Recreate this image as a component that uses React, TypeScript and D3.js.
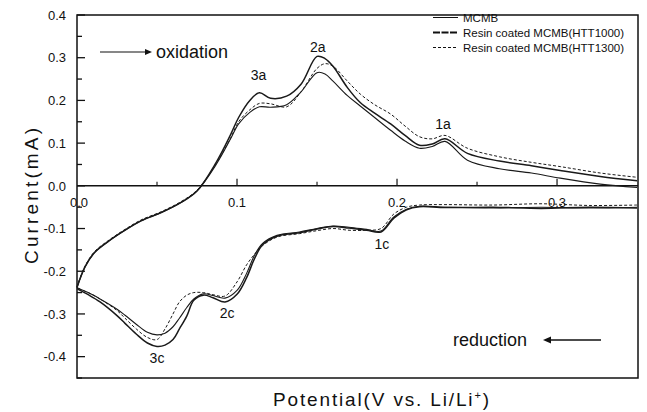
import React from "react";
import * as d3 from "d3";

// ---- Data ----
const seriesNames = ["MCMB", "Resin coated MCMB(HTT1000)", "Resin coated MCMB(HTT1300)"];

// anodic (oxidation) sweep, increasing potential
const anodicV = [0, 0.005, 0.011, 0.02, 0.03, 0.04, 0.053, 0.065, 0.075, 0.087, 0.096, 0.101, 0.108, 0.114, 0.121, 0.131, 0.14, 0.15, 0.155, 0.16, 0.169, 0.177, 0.186, 0.196, 0.205, 0.214, 0.222, 0.23, 0.244, 0.264, 0.284, 0.302, 0.327, 0.35];
const anodicMCMB = [-0.238, -0.19, -0.156, -0.129, -0.104, -0.082, -0.062, -0.039, -0.012, 0.05, 0.11, 0.145, 0.172, 0.185, 0.184, 0.19, 0.22, 0.265, 0.262, 0.245, 0.211, 0.187, 0.16, 0.13, 0.105, 0.088, 0.092, 0.104, 0.06, 0.04, 0.03, 0.018, 0.004, -0.004];
const anodicHTT1000 = [-0.238, -0.19, -0.156, -0.129, -0.104, -0.082, -0.062, -0.039, -0.012, 0.055, 0.12, 0.16, 0.2, 0.218, 0.205, 0.21, 0.238, 0.303, 0.298, 0.28, 0.23, 0.195, 0.17, 0.145, 0.118, 0.095, 0.098, 0.11, 0.076, 0.058, 0.047, 0.036, 0.022, 0.012];
const anodicHTT1300 = [-0.236, -0.188, -0.154, -0.127, -0.102, -0.08, -0.06, -0.037, -0.01, 0.052, 0.112, 0.15, 0.178, 0.193, 0.192, 0.185, 0.22, 0.275, 0.286, 0.28, 0.245, 0.215, 0.19, 0.168, 0.14, 0.115, 0.11, 0.118, 0.088, 0.068, 0.055, 0.045, 0.03, 0.02];

// cathodic (reduction) sweep, decreasing potential
const cathodicV = [0.35, 0.32, 0.29, 0.26, 0.23, 0.214, 0.206, 0.198, 0.19, 0.181, 0.17, 0.16, 0.15, 0.139, 0.125, 0.116, 0.111, 0.106, 0.1, 0.0925, 0.085, 0.079, 0.073, 0.0686, 0.064, 0.06, 0.055, 0.05, 0.044, 0.037, 0.03, 0.025, 0.0144, 0.007, 0.002, 0];
const cathodicMCMB = [-0.05, -0.052, -0.05, -0.052, -0.05, -0.048, -0.055, -0.073, -0.106, -0.102, -0.097, -0.094, -0.1, -0.108, -0.116, -0.135, -0.162, -0.205, -0.245, -0.263, -0.257, -0.253, -0.265, -0.285, -0.31, -0.33, -0.345, -0.349, -0.343, -0.324, -0.303, -0.289, -0.265, -0.25, -0.242, -0.238];
const cathodicHTT1000 = [-0.052, -0.05, -0.053, -0.05, -0.051, -0.049, -0.056, -0.076, -0.108, -0.104, -0.099, -0.095, -0.101, -0.11, -0.118, -0.138, -0.17, -0.215, -0.254, -0.272, -0.262, -0.256, -0.268, -0.305, -0.335, -0.36, -0.373, -0.376, -0.368, -0.347, -0.322, -0.304, -0.272, -0.255, -0.245, -0.24];
const cathodicHTT1300 = [-0.045, -0.046, -0.042, -0.045, -0.044, -0.045, -0.05, -0.066, -0.1, -0.104, -0.104, -0.1, -0.105, -0.112, -0.12, -0.14, -0.16, -0.185, -0.225, -0.258, -0.255, -0.25, -0.25, -0.256, -0.272, -0.3, -0.335, -0.36, -0.355, -0.335, -0.31, -0.292, -0.265, -0.25, -0.242, -0.236];

const xTickValues = [0, 0.1, 0.2, 0.3];
const xTickLabels = ["0.0", "0.1", "0.2", "0.3"];
const yTickValues = [0.4, 0.3, 0.2, 0.1, 0, -0.1, -0.2, -0.3, -0.4];
const yTickLabels = ["0.4", "0.3", "0.2", "0.1", "0.0", "-0.1", "-0.2", "-0.3", "-0.4"];

const peakLabels = [
  { text: "3a", v: 0.1135, i: 0.248 },
  { text: "2a", v: 0.1505, i: 0.314 },
  { text: "1a", v: 0.2288, i: 0.133 },
  { text: "1c", v: 0.1906, i: -0.147 },
  { text: "2c", v: 0.0938, i: -0.31 },
  { text: "3c", v: 0.05, i: -0.416 },
];

const W = 647;
const H = 412;
const M = { left: 77, right: 638, top: 15, bottom: 378 };
const FONT = "Liberation Sans, Arial, Helvetica, sans-serif";

export default function App() {
  const x = d3.scaleLinear().domain([0, 0.3506]).range([M.left, M.right]);
  const y = d3.scaleLinear().domain([-0.45, 0.4]).range([M.bottom, M.top]);

  const line = d3
    .line<[number, number]>()
    .x((d) => x(d[0]))
    .y((d) => y(d[1]))
    .curve(d3.curveCatmullRom.alpha(0.5));

  const zip = (xs: number[], ys: number[]) => xs.map((v, k) => [v, ys[k]] as [number, number]);

  const curves = [
    { a: anodicMCMB, c: cathodicMCMB, w: 1.1, dash: "" },
    { a: anodicHTT1000, c: cathodicHTT1000, w: 1.5, dash: "" },
    { a: anodicHTT1300, c: cathodicHTT1300, w: 1.0, dash: "3,2" },
  ];

  const legendStyles = [
    { w: 1.0, dash: "" },
    { w: 2.0, dash: "7,1.5" },
    { w: 1.0, dash: "3,2" },
  ];

  const yMinor = d3.range(-0.45, 0.4001, 0.05).map((v) => +v.toFixed(2));
  const xMinor = [0.05, 0.15, 0.25];

  return (
    <svg
      width={W}
      height={H}
      style={{ position: "absolute", left: 0, top: 0, background: "#fff" }}
      fontFamily={FONT}
    >
      <rect x={0} y={0} width={W} height={H} fill="#fff" />
      {/* frame */}
      <rect
        x={M.left}
        y={M.top}
        width={M.right - M.left}
        height={M.bottom - M.top}
        fill="none"
        stroke="#111"
        strokeWidth={1.5}
      />
      {/* zero line */}
      <line x1={M.left} x2={M.right} y1={y(0)} y2={y(0)} stroke="#111" strokeWidth={1.6} />

      {/* y ticks (inward) */}
      {yMinor.map((v) => {
        const major = Math.abs(Math.round(v * 10) - v * 10) < 1e-6;
        return (
          <line
            key={"ym" + v}
            x1={M.left}
            x2={M.left + (major ? 8 : 5)}
            y1={y(v)}
            y2={y(v)}
            stroke="#111"
            strokeWidth={1.3}
          />
        );
      })}
      {yTickValues.map((v, k) => (
        <text
          key={"yl" + v}
          x={66}
          y={y(v)}
          dy="0.36em"
          textAnchor="end"
          fontSize={13}
          fill="#111"
        >
          {yTickLabels[k]}
        </text>
      ))}

      {/* x ticks on the zero line, pointing up */}
      {xTickValues.slice(1).map((v) => (
        <line key={"xt" + v} x1={x(v)} x2={x(v)} y1={y(0)} y2={y(0) - 7} stroke="#111" strokeWidth={1.2} />
      ))}
      {xMinor.map((v) => (
        <line key={"xm" + v} x1={x(v)} x2={x(v)} y1={y(0)} y2={y(0) - 4} stroke="#111" strokeWidth={1.1} />
      ))}
      {xTickValues.map((v, k) => (
        <text key={"xl" + v} x={x(v) + (v === 0 ? 2 : 0)} y={207} textAnchor="middle" fontSize={13} fill="#111">
          {xTickLabels[k]}
        </text>
      ))}

      {/* curves */}
      {curves.map((c, k) => (
        <g key={"c" + k} fill="none" stroke="#1a1a1a" strokeWidth={c.w} strokeDasharray={c.dash || undefined}>
          <path d={line(zip(anodicV, c.a)) || ""} />
          <path d={line(zip(cathodicV, c.c)) || ""} />
        </g>
      ))}

      {/* peak labels */}
      {peakLabels.map((p) => (
        <text key={p.text} x={x(p.v)} y={y(p.i)} textAnchor="middle" fontSize={14} fill="#111">
          {p.text}
        </text>
      ))}

      {/* oxidation arrow + text */}
      <line x1={100} x2={148} y1={52} y2={52} stroke="#111" strokeWidth={1.2} />
      <path d="M152,52 L145,49 L145,55 Z" fill="#111" />
      <text x={156} y={58} fontSize={18} fill="#111">oxidation</text>

      {/* reduction text + arrow */}
      <text x={453} y={346} fontSize={18} fill="#111">reduction</text>
      <line x1={548} x2={601} y1={340} y2={340} stroke="#111" strokeWidth={1.3} />
      <path d="M543,340 L551,336.5 L551,343.5 Z" fill="#111" />

      {/* legend */}
      {seriesNames.map((n, k) => (
        <g key={"lg" + k}>
          <line
            x1={433}
            x2={458}
            y1={17.5 + k * 15}
            y2={17.5 + k * 15}
            stroke="#111"
            strokeWidth={legendStyles[k].w}
            strokeDasharray={legendStyles[k].dash || undefined}
          />
          <text x={463} y={17.5 + k * 15} dy="0.35em" fontSize={11.5} fill="#111">
            {n}
          </text>
        </g>
      ))}

      {/* axis titles */}
      <text
        transform={`translate(31,196) rotate(-90)`}
        textAnchor="middle"
        dy="0.35em"
        fontSize={19}
        textLength={136}
        lengthAdjust="spacing"
        fill="#111"
      >
        Current(mA)
      </text>
      <text x={381} y={406} textAnchor="middle" fontSize={19} fill="#111" textLength={216} lengthAdjust="spacing">
        Potential(V vs. Li/Li
        <tspan dy={-7} fontSize={11}>+</tspan>
        <tspan dy={7}>)</tspan>
      </text>
    </svg>
  );
}
